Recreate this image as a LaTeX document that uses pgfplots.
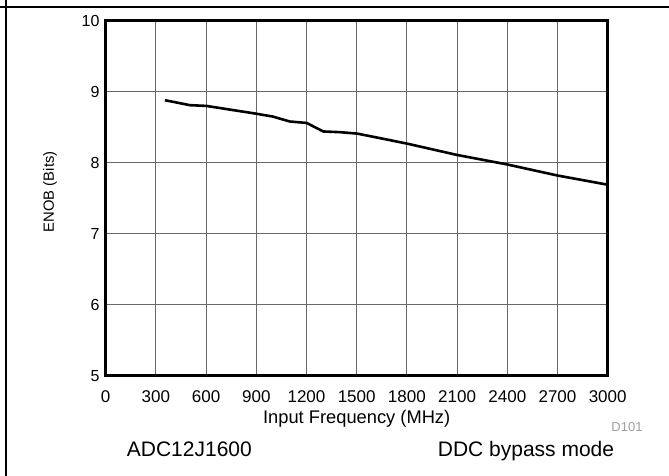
\documentclass[border=0pt]{standalone}
\usepackage{fontspec}
\setmainfont{Liberation Sans}
\usepackage{pgfplots}
\pgfplotsset{compat=1.18}
\definecolor{gridc}{RGB}{105,105,105}
\definecolor{dcol}{RGB}{160,160,160}
\begin{document}
\begin{tikzpicture}
\useasboundingbox (0,0) rectangle (669bp,-476bp);
\fill[white] (0,0) rectangle (669bp,-476bp);
\begin{axis}[
  scale only axis,
  width=502bp, height=355bp,
  anchor=south west, at={(105.7bp,-375.7bp)},
  xmin=0, xmax=3000, ymin=5, ymax=10,
  xtick={0,300,...,3000}, ytick={5,6,...,10},
  major tick length=0pt,
  /pgf/number format/assume math mode=true,
  /pgf/number format/1000 sep={},
  grid=major,
  major grid style={draw=gridc, line width=0.9bp},
  axis line style={line width=3bp, black},
  axis on top=false,
  xticklabel style={font=\fontsize{17bp}{20bp}\selectfont, anchor=base, yshift=-26.6bp, inner sep=0pt},
  yticklabel style={font=\fontsize{16bp}{19bp}\selectfont, anchor=east, xshift=-6bp, inner sep=0pt},
  xlabel={Input Frequency (MHz)},
  ylabel={ENOB (Bits)},
  xlabel style={font=\fontsize{18.3bp}{21bp}\selectfont, at={(axis description cs:0.5,0)}, anchor=base, yshift=-47.6bp, inner sep=0pt},
  ylabel style={font=\fontsize{14.8bp}{18bp}\selectfont, at={(axis description cs:-0.111,0.518)}, anchor=center, rotate=0, inner sep=0pt},
]
\addplot[black, line width=2.6bp, line join=round] coordinates {
(354,8.88) (504,8.81) (601,8.80) (900,8.69) (998,8.65) (1101,8.58)
(1201,8.56) (1300,8.44) (1400,8.43) (1503,8.41) (1799,8.27) (2098,8.11)
(2400,7.975) (2699,7.82) (3000,7.69)
};
\end{axis}
\draw[black, line width=1.6bp] (5.7bp,0) -- (5.7bp,-476bp);
\draw[black, line width=1.6bp] (0,-7bp) -- (669bp,-7bp);
\node[anchor=base west, inner sep=0pt, font=\fontsize{21bp}{25bp}\selectfont] at (126.7bp,-456bp) {ADC12J1600};
\node[anchor=base east, inner sep=0pt, font=\fontsize{21bp}{25bp}\selectfont] at (614.3bp,-456bp) {DDC bypass mode};
\node[anchor=base east, inner sep=0pt, text=dcol, font=\fontsize{13bp}{16bp}\selectfont] at (642.7bp,-431.7bp) {D101};
\end{tikzpicture}
\end{document}
